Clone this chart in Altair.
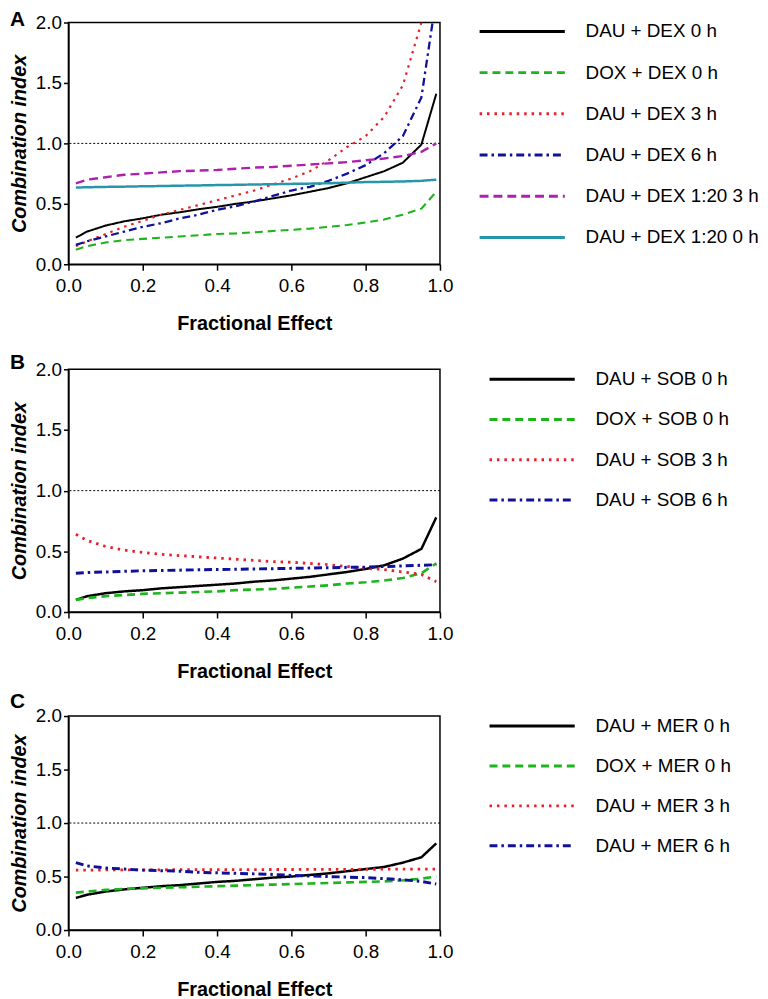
import altair as alt
import pandas as pd

FONT = "Liberation Sans"

# Fractional effect grid (x values)
FA = [0.02, 0.05, 0.10, 0.15, 0.20, 0.25, 0.30, 0.35, 0.40, 0.45, 0.50,
      0.55, 0.60, 0.65, 0.70, 0.75, 0.80, 0.85, 0.90, 0.95, 0.99]
# the DAU + DEX 6 h curve leaves the plot at its top edge near Fa = 0.98
FA_A6 = [0.02, 0.05, 0.10, 0.15, 0.20, 0.25, 0.30, 0.35, 0.40, 0.45, 0.50,
         0.55, 0.60, 0.65, 0.70, 0.75, 0.80, 0.85, 0.90, 0.95, 0.98]

X_TICKS = [0.0, 0.2, 0.4, 0.6, 0.8, 1.0]
Y_TICKS = [0.0, 0.5, 1.0, 1.5, 2.0]
REF_LINE = [1.0]

# ---- Panel A : DEX ----
A_NAMES = ["DAU + DEX 0 h", "DOX + DEX 0 h", "DAU + DEX 3 h", "DAU + DEX 6 h",
           "DAU + DEX 1:20 3 h", "DAU + DEX 1:20 0 h"]
A_DAU_0 = [0.22, 0.27, 0.32, 0.355, 0.38, 0.41, 0.43, 0.455, 0.475, 0.50, 0.52,
           0.545, 0.57, 0.60, 0.63, 0.67, 0.72, 0.77, 0.84, 0.99, 1.41]
A_DOX_0 = [0.12, 0.15, 0.18, 0.20, 0.21, 0.22, 0.23, 0.24, 0.25, 0.255, 0.265,
           0.275, 0.285, 0.295, 0.31, 0.325, 0.345, 0.37, 0.41, 0.46, 0.60]
A_DAU_3 = [0.15, 0.19, 0.25, 0.31, 0.36, 0.41, 0.45, 0.49, 0.53, 0.57, 0.61,
           0.66, 0.71, 0.77, 0.86, 0.97, 1.06, 1.22, 1.48, 2.0, None]
A_DAU_6 = [0.16, 0.19, 0.23, 0.27, 0.31, 0.34, 0.38, 0.41, 0.45, 0.48, 0.52,
           0.565, 0.61, 0.64, 0.69, 0.75, 0.82, 0.92, 1.06, 1.38, 2.0]
A_120_3 = [0.67, 0.70, 0.72, 0.74, 0.75, 0.76, 0.77, 0.775, 0.78, 0.79, 0.80,
           0.805, 0.815, 0.825, 0.835, 0.845, 0.86, 0.875, 0.895, 0.93, 1.0]
A_120_0 = [0.635, 0.637, 0.64, 0.642, 0.645, 0.647, 0.65, 0.652, 0.655, 0.657, 0.66,
           0.662, 0.665, 0.667, 0.67, 0.675, 0.68, 0.682, 0.685, 0.69, 0.70]

# ---- Panel B : SOB ----
B_NAMES = ["DAU + SOB 0 h", "DOX + SOB 0 h", "DAU + SOB 3 h", "DAU + SOB 6 h"]
B_DAU_0 = [0.10, 0.13, 0.155, 0.17, 0.18, 0.195, 0.205, 0.215, 0.225, 0.235, 0.25,
           0.26, 0.275, 0.29, 0.31, 0.33, 0.355, 0.385, 0.44, 0.52, 0.78]
B_DOX_0 = [0.10, 0.115, 0.13, 0.14, 0.15, 0.155, 0.16, 0.165, 0.17, 0.18, 0.185,
           0.19, 0.20, 0.21, 0.22, 0.235, 0.245, 0.26, 0.28, 0.32, 0.40]
B_DAU_3 = [0.64, 0.59, 0.54, 0.51, 0.49, 0.475, 0.465, 0.455, 0.445, 0.435, 0.425,
           0.415, 0.41, 0.40, 0.39, 0.375, 0.36, 0.35, 0.33, 0.31, 0.25]
B_DAU_6 = [0.32, 0.325, 0.33, 0.335, 0.34, 0.342, 0.345, 0.348, 0.35, 0.352, 0.355,
           0.357, 0.36, 0.362, 0.365, 0.368, 0.37, 0.375, 0.38, 0.385, 0.39]

# ---- Panel C : MER ----
C_NAMES = ["DAU + MER 0 h", "DOX + MER 0 h", "DAU + MER 3 h", "DAU + MER 6 h"]
C_DAU_0 = [0.30, 0.33, 0.36, 0.38, 0.395, 0.41, 0.42, 0.435, 0.45, 0.46, 0.475,
           0.49, 0.50, 0.515, 0.53, 0.55, 0.57, 0.59, 0.63, 0.68, 0.81]
C_DOX_0 = [0.35, 0.36, 0.375, 0.385, 0.39, 0.395, 0.40, 0.405, 0.41, 0.415, 0.42,
           0.425, 0.43, 0.435, 0.44, 0.445, 0.45, 0.455, 0.465, 0.48, 0.50]
C_DAU_3 = [0.56, 0.56, 0.562, 0.562, 0.563, 0.563, 0.564, 0.564, 0.565, 0.565, 0.565,
           0.566, 0.566, 0.567, 0.567, 0.568, 0.568, 0.569, 0.569, 0.57, 0.57]
C_DAU_6 = [0.63, 0.60, 0.58, 0.57, 0.56, 0.555, 0.55, 0.54, 0.535, 0.53, 0.525,
           0.52, 0.51, 0.505, 0.50, 0.495, 0.49, 0.48, 0.47, 0.455, 0.43]

# styles
BLACK, GREEN, RED, BLUE, MAGENTA, TEAL = "#000000", "#1EB41E", "#E8202A", "#10109A", "#B020B0", "#2896AA"
SOLID, DASH, DOT, DASHDOT, DASH2 = [1, 0], [8, 5], [2.5, 5], [8, 4, 2.5, 4], [9, 5]


def long_df(names, series, xs):
    rows = []
    for name, vals, fa in zip(names, series, xs):
        for f, v in zip(fa, vals):
            if v is not None:
                rows.append({"fa": f, "ci": v, "series": name})
    return pd.DataFrame(rows)


def panel(letter, names, series, xs, colors, dashes, widths, height,
          leg_x, leg_range, letter_y):
    color = alt.Color("series:N", scale=alt.Scale(domain=names, range=colors), legend=None)
    dash = alt.StrokeDash("series:N", scale=alt.Scale(domain=names, range=dashes), legend=None)
    sw = alt.StrokeWidth("series:N", scale=alt.Scale(domain=names, range=widths), legend=None)

    lines = alt.Chart(long_df(names, series, xs)).mark_line(clip=True).encode(
        x=alt.X("fa:Q", scale=alt.Scale(domain=[0, 1], nice=False),
                axis=alt.Axis(values=X_TICKS, format=".1f", title="Fractional Effect")),
        y=alt.Y("ci:Q", scale=alt.Scale(domain=[0, 2], nice=False),
                axis=alt.Axis(values=Y_TICKS, format=".1f", title="Combination index")),
        color=color, strokeDash=dash, strokeWidth=sw, detail="series:N",
    )
    ref = alt.Chart(pd.DataFrame({"ci": REF_LINE})).mark_rule(
        color="black", strokeWidth=1, strokeDash=[2, 2]).encode(y="ci:Q")
    main = alt.layer(ref, lines)

    ldf = pd.DataFrame({"series": names})
    ly = alt.Y("series:N", scale=alt.Scale(type="point", domain=names, range=leg_range, padding=0),
               axis=None)
    leg_rule = alt.Chart(ldf).mark_rule(strokeWidth=3).encode(
        x=alt.value(leg_x), x2=alt.value(leg_x + 86), y=ly, color=color, strokeDash=dash)
    leg_text = alt.Chart(ldf).mark_text(
        align="left", baseline="middle", font=FONT, fontSize=19, color="black").encode(
        x=alt.value(leg_x + 107), y=ly, text="series:N")
    let = alt.Chart(pd.DataFrame({"t": [letter]})).mark_text(
        align="left", baseline="top", font=FONT, fontSize=21, fontWeight="bold",
        color="black").encode(x=alt.value(-59), y=alt.value(letter_y), text="t:N")

    return alt.layer(main, leg_rule, leg_text, let).resolve_scale(y="independent").properties(
        width=375, height=height)


pA = panel("A", A_NAMES, [A_DAU_0, A_DOX_0, A_DAU_3, A_DAU_6, A_120_3, A_120_0],
           [FA, FA, FA, FA_A6, FA, FA],
           [BLACK, GREEN, RED, BLUE, MAGENTA, TEAL],
           [SOLID, DASH, DOT, DASHDOT, DASH2, SOLID],
           [2, 2.5, 2.5, 2.5, 2.5, 2], 244, 415, [9, 217], -13)
pB = panel("B", B_NAMES, [B_DAU_0, B_DOX_0, B_DAU_3, B_DAU_6], [FA] * 4,
           [BLACK, GREEN, RED, BLUE], [SOLID, DASH, DOT, DASHDOT],
           [2.5, 3, 2.5, 3], 245, 425, [10, 132], -17.5)
pC = panel("C", C_NAMES, [C_DAU_0, C_DOX_0, C_DAU_3, C_DAU_6], [FA] * 4,
           [BLACK, GREEN, RED, BLUE], [SOLID, DASH, DOT, DASHDOT],
           [2.5, 3, 2.5, 3], 216, 425, [10, 131], -25.5)

RES = dict(color="independent", strokeDash="independent", strokeWidth="independent")
top = alt.vconcat(pA, pB, spacing=16).resolve_scale(**RES)
chart = alt.vconcat(top, pC, spacing=7).resolve_scale(**RES).properties(
    padding={"left": 0, "top": -4, "right": 0, "bottom": 0}
).configure_view(stroke="black", strokeWidth=1.5).configure_axis(
    labelFont=FONT, titleFont=FONT, labelFontSize=19, labelColor="black",
    titleColor="black", titleFontSize=20, titleFontWeight="bold", labelFlush=False,
    domainColor="black", tickColor="black", domainWidth=1.5, tickWidth=1.5, grid=False,
).configure_axisX(
    tickSize=6, labelPadding=7, titlePadding=18,
).configure_axisY(
    tickSize=5, labelPadding=2, titlePadding=6, titleFontStyle="italic",
)

chart.save("out.html", embed_options={"renderer": "svg", "actions": False})
